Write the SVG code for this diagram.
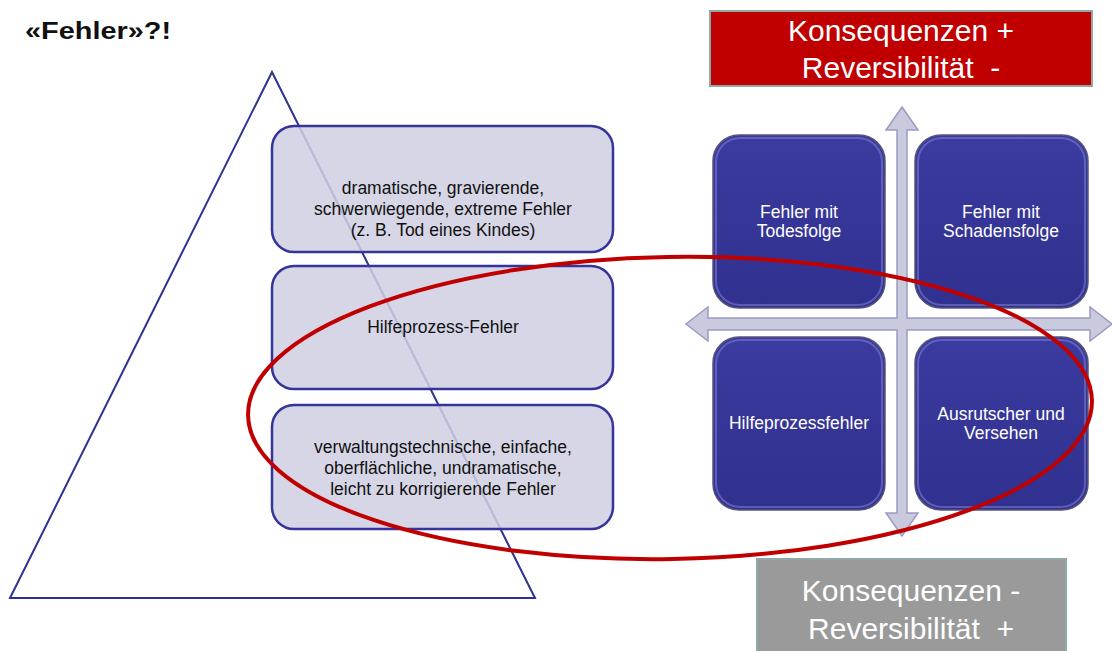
<svg xmlns="http://www.w3.org/2000/svg" width="1112" height="651" viewBox="0 0 1112 651">
<defs>
<style>
.t{font-family:"Liberation Sans",Arial,sans-serif;}
.lb{fill:#cfcfe2;fill-opacity:0.85;stroke:#34349a;stroke-width:2.5;}
.lt{font-size:17.5px;fill:#111;text-anchor:middle;}
.q{fill:url(#qg);stroke:#55557a;stroke-width:1.5;}
.qi{fill:none;stroke:#7a7ad0;stroke-width:2;stroke-opacity:0.6;}
.qt{font-size:17.5px;fill:#fff;text-anchor:middle;}
.bt{font-size:30px;fill:#fff;text-anchor:middle;}
.arr{fill:#cacade;stroke:#9a9ac4;stroke-width:1.5;}
</style>
<linearGradient id="qg" x1="0" y1="0" x2="0" y2="1">
<stop offset="0" stop-color="#3b3ba0"/>
<stop offset="1" stop-color="#30308f"/>
</linearGradient>
</defs>
<rect width="1112" height="651" fill="#fff"/>
<text class="t" x="25" y="39" font-size="23.5" font-weight="bold" fill="#111" textLength="146" lengthAdjust="spacingAndGlyphs">«Fehler»?!</text>
<g id="triangle"><polygon points="272,72 10,598 535,598" fill="none" stroke="#2e3192" stroke-width="2"/></g>
<g id="box1"><rect class="lb" x="272" y="126" width="341" height="126" rx="22"/>
<text class="t lt" x="443" y="194">dramatische, gravierende,</text>
<text class="t lt" x="443" y="215">schwerwiegende, extreme Fehler</text>
<text class="t lt" x="443" y="236">(z. B. Tod eines Kindes)</text></g>
<g id="box2"><rect class="lb" x="272" y="266" width="341" height="123" rx="22"/>
<text class="t lt" x="443" y="333">Hilfeprozess-Fehler</text></g>
<g id="box3"><rect class="lb" x="272" y="405" width="341" height="124" rx="22"/>
<text class="t lt" x="443" y="453">verwaltungstechnische, einfache,</text>
<text class="t lt" x="443" y="474">oberflächliche, undramatische,</text>
<text class="t lt" x="443" y="495">leicht zu korrigierende Fehler</text></g>
<g id="connectors">
<polygon class="arr" points="902,107 918,130 907,130 907,318 1090,318 1090,307 1112,324 1090,341 1090,330 907,330 907,513 918,513 902,536 886,513 897,513 897,330 708,330 708,341 686,324 708,307 708,318 897,318 897,130 886,130"/>
</g>
<g id="q1"><rect class="q" x="713" y="135" width="172" height="173" rx="26"/><rect class="qi" x="716" y="138" width="166" height="167" rx="24"/>
<text class="t qt" x="799" y="218">Fehler mit</text><text class="t qt" x="799" y="237">Todesfolge</text></g>
<g id="q2"><rect class="q" x="915" y="135" width="173" height="173" rx="26"/><rect class="qi" x="918" y="138" width="167" height="167" rx="24"/>
<text class="t qt" x="1001" y="218">Fehler mit</text><text class="t qt" x="1001" y="237">Schadensfolge</text></g>
<g id="q3"><rect class="q" x="713" y="337" width="172" height="173" rx="26"/><rect class="qi" x="716" y="340" width="166" height="167" rx="24"/>
<text class="t qt" x="799" y="429">Hilfeprozessfehler</text></g>
<g id="q4"><rect class="q" x="915" y="337" width="173" height="173" rx="26"/><rect class="qi" x="918" y="340" width="167" height="167" rx="24"/>
<text class="t qt" x="1001" y="420">Ausrutscher und</text><text class="t qt" x="1001" y="439">Versehen</text></g>
<g id="top"><rect x="710" y="11" width="382" height="75" fill="#c00000" stroke="#8fa8a8" stroke-width="2"/>
<text class="t bt" x="901" y="41">Konsequenzen +</text><text class="t bt" x="901" y="78" xml:space="preserve">Reversibilität  -</text></g>
<g id="bottom"><rect x="757" y="559" width="309" height="95" fill="#9a9a9a" stroke="#8fa8a8" stroke-width="2"/>
<text class="t bt" x="911" y="601">Konsequenzen -</text><text class="t bt" x="911" y="639" xml:space="preserve">Reversibilität  +</text></g>
<g id="ellipse"><ellipse cx="670" cy="408" rx="422" ry="151" fill="none" stroke="#c00000" stroke-width="4" transform="rotate(-1 670 408)"/></g>
</svg>
